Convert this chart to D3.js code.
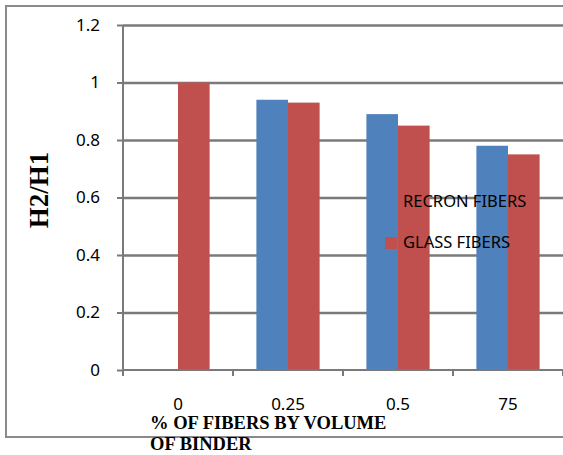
<!DOCTYPE html>
<html><head><meta charset="utf-8">
<script src="https://cdn.jsdelivr.net/npm/d3@7"></script>
<style>html,body{margin:0;padding:0;background:#fff;overflow:hidden}</style>
</head><body>
<svg id="chart" width="563" height="455"></svg>
<script>
const categories = ["0", "0.25", "0.5", "75"];
const seriesNames = ["RECRON FIBERS", "GLASS FIBERS"];
const recron = [0, 0.94, 0.89, 0.78];
const glass = [1.0, 0.93, 0.85, 0.75];
const yTicks = [0, 0.2, 0.4, 0.6, 0.8, 1, 1.2];
const colors = ["#4F81BD", "#C0504D"];

const svg = d3.select("#chart");
const m = {left: 123, right: 563, top: 25, bottom: 370};
const x = d3.scaleBand().domain(categories).range([m.left, m.right]).paddingInner(0).paddingOuter(0);
const y = d3.scaleLinear().domain([0, 1.2]).range([m.bottom, m.top]);
const xs = d3.scaleBand().domain(seriesNames).range([0, x.bandwidth()]).paddingInner(0).paddingOuter(0.74);
const lab = "Noto Sans, Calibri, sans-serif";
const gridColor = "#7a7a7a";

// outer border
svg.append("rect").attr("x", 6).attr("y", 6).attr("width", 570).attr("height", 431)
  .attr("fill", "none").attr("stroke", "#8a8a8a").attr("stroke-width", 2);

// y axis with gridlines (drawn before bars so bars sit on top)
const yAxis = svg.append("g").attr("transform", `translate(${m.left},0)`)
  .call(d3.axisLeft(y).tickValues(yTicks).tickFormat(d3.format("~g")).tickSize(6).tickPadding(17));
yAxis.select(".domain").attr("stroke", gridColor).attr("stroke-width", 2).attr("d", `M0,${m.top}V${m.bottom}`);
yAxis.selectAll(".tick line").attr("stroke", gridColor).attr("stroke-width", 2).attr("x1", 0).attr("x2", -6);
yAxis.selectAll(".tick").filter(d => d > 0).append("line")
  .attr("x1", 0).attr("x2", m.right - m.left)
  .attr("stroke", gridColor).attr("stroke-width", 2.5);
yAxis.selectAll(".tick text").attr("font-family", lab).attr("font-size", 17).attr("fill", "#000");

// bars
const series = [recron, glass];
series.forEach((vals, si) => {
  svg.append("g").selectAll("rect").data(vals).join("rect")
    .attr("x", (d, i) => x(categories[i]) + xs(seriesNames[si]))
    .attr("width", xs.bandwidth())
    .attr("y", d => y(d))
    .attr("height", d => y(0) - y(d))
    .attr("fill", colors[si]);
});

// x axis
const xAxis = svg.append("g").attr("transform", `translate(0,${m.bottom})`)
  .call(d3.axisBottom(x).tickSize(0).tickPadding(28));
xAxis.select(".domain").attr("stroke", gridColor).attr("stroke-width", 2).attr("d", `M${m.left},0H${m.right}`);
xAxis.selectAll(".tick text").attr("font-family", lab).attr("font-size", 17).attr("fill", "#000");
xAxis.append("g").selectAll("line").data(categories.concat(["end"])).join("line")
  .attr("x1", (d, i) => m.left + i * x.bandwidth()).attr("x2", (d, i) => m.left + i * x.bandwidth())
  .attr("y1", 0).attr("y2", 6).attr("stroke", gridColor).attr("stroke-width", 2);

// y title
svg.append("text").attr("transform", "translate(48,190) rotate(-90)")
  .attr("text-anchor", "middle").attr("font-family", "Liberation Serif, Times New Roman, serif")
  .attr("font-weight", "bold").attr("font-size", 27).text("H2/H1");

// x title
const xt = svg.append("text").attr("font-family", "Liberation Serif, Times New Roman, serif")
  .attr("font-weight", "bold").attr("font-size", 18.5);
xt.append("tspan").attr("x", 150).attr("y", 429).text("% OF FIBERS BY VOLUME");
xt.append("tspan").attr("x", 150).attr("y", 450).text("OF BINDER");

// legend
const lg = svg.append("g");
seriesNames.forEach((n, i) => {
  lg.append("rect").attr("x", 385).attr("y", 196 + i * 41).attr("width", 12).attr("height", 12).attr("fill", colors[i]);
  lg.append("text").attr("x", 403).attr("y", 207 + i * 41).attr("font-family", lab)
    .attr("font-size", 16.5).attr("fill", "#000").text(n);
});
</script>
</body></html>
